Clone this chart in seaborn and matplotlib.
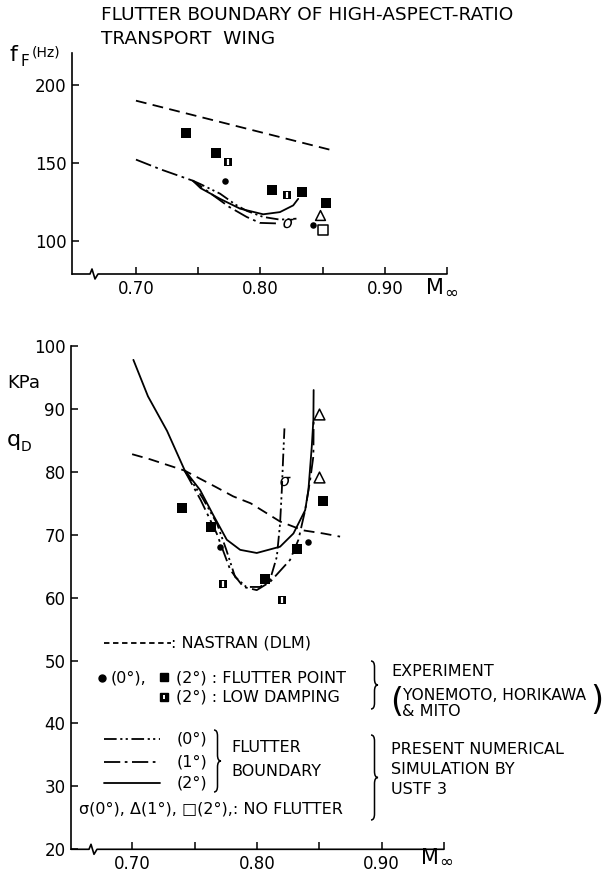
import numpy as np
import pandas as pd
import matplotlib
matplotlib.use("Agg")
import matplotlib.pyplot as plt
from matplotlib.lines import Line2D
from matplotlib.path import Path
from matplotlib.patches import PathPatch
import seaborn as sns

sns.set_style("ticks")
plt.rcParams['font.family'] = ['DejaVu Sans']
plt.rcParams['text.color'] = 'k'
plt.rcParams['xtick.color'] = 'k'
plt.rcParams['ytick.color'] = 'k'

W, H = 604, 873

# ---------------- top chart: flutter frequency f_F (Hz) vs Mach
top_nastran_m = [0.70, 0.858]
top_nastran_f = [190.0, 158.2]

# 1 deg boundary (includes the shared left part)
top_b1_m = [0.70, 0.72, 0.7457, 0.7516, 0.7623, 0.775, 0.789, 0.7997, 0.8157]
top_b1_f = [152.3, 146.0, 138.8, 135.5, 129.3, 122.0, 115.6, 111.8, 111.4]
top_b0_m = [0.7457, 0.7516, 0.7676, 0.78, 0.789, 0.8023, 0.8157, 0.829]
top_b0_f = [138.8, 136.7, 130.5, 123.5, 119.5, 115.6, 113.9, 114.5]
top_b2_m = [0.7457, 0.752, 0.7676, 0.7837, 0.8023, 0.8157, 0.8264, 0.8304]
top_b2_f = [138.8, 134.0, 127.2, 120.9, 117.3, 118.7, 123.0, 127.2]

top_fp0_m = [0.7716, 0.8419]
top_fp0_f = [138.4, 110.3]
top_fp2_m = [0.740, 0.764, 0.809, 0.8336, 0.8531]
top_fp2_f = [169.0, 156.7, 132.9, 131.8, 124.5]
top_ld2_m = [0.774, 0.8216]
top_ld2_f = [151.0, 129.7]
top_nf0_m, top_nf0_f = [0.8224], [112.0]
top_nf1_m, top_nf1_f = [0.8477], [116.6]
top_nf2_m, top_nf2_f = [0.8504], [107.5]

# ---------------- bottom chart: dynamic pressure q_D (KPa) vs Mach
bot_nastran_m = [0.70, 0.7143, 0.742, 0.767, 0.781, 0.795, 0.8186, 0.837, 0.8533, 0.8667]
bot_nastran_q = [82.8, 82.0, 80.2, 77.6, 76.1, 75.0, 72.1, 70.7, 70.2, 69.7]

bot_b2_m = [0.701, 0.7127, 0.728, 0.742, 0.7545, 0.7651, 0.7759, 0.7866, 0.7999,
            0.8186, 0.8293, 0.8387, 0.8413, 0.844, 0.8453, 0.8455]
bot_b2_q = [97.8, 92.0, 86.5, 80.3, 77.1, 73.1, 69.2, 67.6, 67.1,
            68.1, 70.2, 73.9, 77.1, 84.0, 88.3, 93.0]
bot_b0_m = [0.742, 0.756, 0.768, 0.7755, 0.7825, 0.7915, 0.8025, 0.8105, 0.816,
            0.8186, 0.8200, 0.8210, 0.8221]
bot_b0_q = [80.2, 76.0, 71.8, 67.6, 63.3, 61.7, 61.7, 62.8, 66.5,
            71.8, 77.1, 82.0, 86.9]
bot_b1_m = [0.742, 0.755, 0.7678, 0.7787, 0.7892, 0.7999, 0.8106, 0.8266, 0.8333,
            0.8387, 0.8427, 0.8453, 0.8455]
bot_b1_q = [80.2, 75.5, 70.2, 64.4, 61.7, 61.2, 62.5, 66.0, 69.2,
            73.9, 78.7, 82.5, 88.3]

bot_fp0_m = [0.7705, 0.8413]
bot_fp0_q = [68.0, 68.9]
bot_fp2_m = [0.7403, 0.7633, 0.8065, 0.832, 0.8533]
bot_fp2_q = [74.2, 71.3, 62.9, 67.7, 75.4]
bot_ld2_m = [0.7732, 0.820]
bot_ld2_q = [62.1, 59.7]
bot_nf0_m, bot_nf0_q = [0.8225], [78.6]
bot_nf1_m, bot_nf1_q = [0.8495, 0.8495], [79.2, 89.2]

xticks = [0.70, 0.75, 0.80, 0.85, 0.90, 0.95]
xticklabels = ["0.70", "", "0.80", "", "0.90", ""]

# line styles
LW = 1.3
ST_NAS = (0, (6, 3.5))
ST_0 = (0, (7, 2, 1.2, 1.8, 1.2, 2))
ST_1 = (0, (9, 2.5, 1.5, 2.5))
ST_2 = '-'

fig = plt.figure(figsize=(W / 100, H / 100), dpi=100)


def px_axes(l, t, r, b):
    return fig.add_axes([l / W, 1 - b / H, (r - l) / W, (b - t) / H])


def ftext(x, y, s, size=11.5, ha='left', va='center', **kw):
    fig.text(x / W, 1 - y / H, s, fontsize=size, ha=ha, va=va, color='k', **kw)


def fline(x0, x1, y, ls):
    fig.add_artist(Line2D([x0 / W, x1 / W], [1 - y / H] * 2, transform=fig.transFigure,
                          color='k', lw=LW, linestyle=ls))


def fmark(x, y, **kw):
    fig.add_artist(Line2D([x / W], [1 - y / H], transform=fig.transFigure,
                          linestyle='none', **kw))


def brace(x, y0, y1, w=7):
    ym = (y0 + y1) / 2
    r = min(6, (y1 - y0) / 6)
    pts = [(x, y0), (x + w / 2, y0), (x + w / 2, y0 + r),
           (x + w / 2, ym - r), (x + w / 2, ym), (x + w, ym),
           (x + w / 2, ym), (x + w / 2, ym + r),
           (x + w / 2, y1 - r), (x + w / 2, y1), (x, y1)]
    codes = [Path.MOVETO, Path.CURVE3, Path.CURVE3, Path.LINETO, Path.CURVE3, Path.CURVE3,
             Path.CURVE3, Path.CURVE3, Path.LINETO, Path.CURVE3, Path.CURVE3]
    verts = [(px / W, 1 - py / H) for px, py in pts]
    fig.add_artist(PathPatch(Path(verts, codes), transform=fig.transFigure,
                             fill=False, lw=1.1, color='k'))


def style_axis(ax, h_px, yticks):
    sns.despine(ax=ax)
    ax.spines['bottom'].set_visible(False)
    ax.spines['left'].set_linewidth(1.2)
    ax.spines['left'].set_color('k')
    ax.set_xticks(xticks)
    ax.set_xticklabels(xticklabels)
    ax.set_yticks(yticks)
    ax.tick_params(direction='in', length=5, width=1.1, labelsize=12, pad=4, colors='k')
    ax.set_xlabel('')
    ax.set_ylabel('')
    # bottom axis line with a break mark near the origin
    d = 1.0 / (ax.get_position().width * W)
    e = 1.0 / h_px
    xs = [0, 18 * d, 20 * d, 23 * d, 26 * d, 1]
    ys = [0, 0, 5 * e, -5 * e, 0, 0]
    ax.add_artist(Line2D(xs, ys, transform=ax.transAxes, color='k', lw=1.2, clip_on=False))


def lines(ax, m, v, ls):
    sns.lineplot(x=m, y=v, ax=ax, color='k', lw=LW, linestyle=ls, sort=False, estimator=None)


def pts(ax, m, v, marker, s, face='k', edge='k', lw=0):
    sns.scatterplot(x=m, y=v, ax=ax, marker=marker, s=s, facecolor=face, edgecolor=edge,
                    linewidth=lw, zorder=5)


def low_damp(ax, m, v):
    # black square with a white slit
    pts(ax, m, v, 's', 38)
    sns.scatterplot(x=m, y=v, ax=ax, marker='|', s=16, color='white', linewidth=1.6, zorder=6)


# ---------------- top axes
ax1 = px_axes(72, 53, 447, 274)
lines(ax1, top_nastran_m, top_nastran_f, ST_NAS)
lines(ax1, top_b1_m, top_b1_f, ST_1)
lines(ax1, top_b0_m, top_b0_f, ST_0)
lines(ax1, top_b2_m, top_b2_f, ST_2)
pts(ax1, top_fp2_m, top_fp2_f, 's', 42)
pts(ax1, top_fp0_m, top_fp0_f, 'o', 22)
low_damp(ax1, top_ld2_m, top_ld2_f)
pts(ax1, top_nf0_m, top_nf0_f, r'$\sigma$', 55)
pts(ax1, top_nf1_m, top_nf1_f, '^', 50, face='white', lw=1.1)
pts(ax1, top_nf2_m, top_nf2_f, 's', 42, face='white', lw=1.1)
ax1.set_xlim(0.6486, 0.95)
ax1.set_ylim(79.1, 220.5)
style_axis(ax1, 221, [100, 150, 200])

# ---------------- bottom axes
ax2 = px_axes(71, 346, 444, 849.3)
lines(ax2, bot_nastran_m, bot_nastran_q, ST_NAS)
lines(ax2, bot_b0_m, bot_b0_q, ST_0)
lines(ax2, bot_b1_m, bot_b1_q, ST_1)
lines(ax2, bot_b2_m, bot_b2_q, ST_2)
pts(ax2, bot_fp2_m, bot_fp2_q, 's', 42)
pts(ax2, bot_fp0_m, bot_fp0_q, 'o', 22)
low_damp(ax2, bot_ld2_m, bot_ld2_q)
pts(ax2, bot_nf0_m, bot_nf0_q, r'$\sigma$', 55)
pts(ax2, bot_nf1_m, bot_nf1_q, '^', 60, face='white', lw=1.1)
ax2.set_xlim(0.651, 0.95)
ax2.set_ylim(20, 100)
style_axis(ax2, 503, list(range(20, 101, 10)))

# ---------------- titles and axis labels
ftext(101, 15, "FLUTTER BOUNDARY OF HIGH-ASPECT-RATIO", size=13.3)
ftext(101, 39, "TRANSPORT  WING", size=13.3)
ftext(10, 55, "f", size=16)
ftext(20, 62, "F", size=11)
ftext(32, 53, "(Hz)", size=10)
ftext(426, 288, "M", size=15)
ftext(444, 293, "∞", size=12)
ftext(7, 383, "KPa", size=13)
ftext(7, 440, "q", size=16)
ftext(21, 447, "D", size=10)
ftext(421, 858, "M", size=15)
ftext(439, 862, "∞", size=12)

# ---------------- legend block
fline(104, 171, 643, (0, (3, 2)))
ftext(171, 643, ": NASTRAN (DLM)")
fmark(102, 678, marker='o', ms=5, color='k')
ftext(111, 678, "(0°),")
fmark(164, 677, marker='s', ms=6, color='k')
ftext(176, 678, "(2°) : FLUTTER POINT")
fmark(164, 697, marker='s', ms=6, color='k')
fmark(164, 697, marker='|', ms=3.5, color='white', mew=1.4)
ftext(176, 697, "(2°) : LOW DAMPING")
brace(371, 661, 709)
ftext(391, 672, "EXPERIMENT")
ftext(390, 703, "(", size=24)
ftext(403, 695, "YONEMOTO, HORIKAWA", size=11.2)
ftext(402, 711, "& MITO")
ftext(603, 700, ")", size=24, ha='right')

fline(104, 160, 739, ST_0)
fline(104, 160, 762, ST_1)
fline(104, 160, 783, ST_2)
ftext(177, 739, "(0°)")
ftext(177, 762, "(1°)")
ftext(177, 783, "(2°)")
brace(214, 730, 792)
ftext(231, 747, "FLUTTER")
ftext(231, 771, "BOUNDARY")
brace(371, 735, 820)
ftext(391, 750, "PRESENT NUMERICAL")
ftext(391, 770, "SIMULATION BY")
ftext(391, 790, "USTF 3")
ftext(79, 809, "σ(0°), Δ(1°), □(2°),: NO FLUTTER")

fig.savefig("out.png", dpi=100)
